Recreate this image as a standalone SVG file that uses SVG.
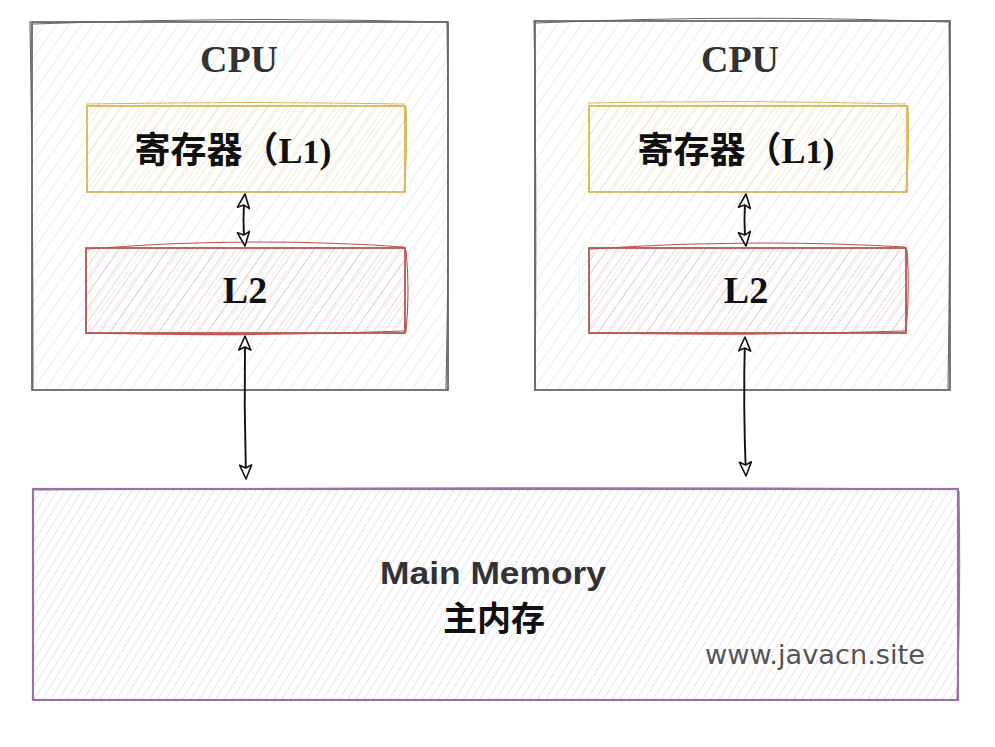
<svg xmlns="http://www.w3.org/2000/svg" width="995" height="747" viewBox="0 0 995 747">
<defs>
<pattern id="hGray" patternUnits="userSpaceOnUse" width="10" height="10" patternTransform="rotate(35)"><line x1="0" y1="0" x2="0" y2="10" stroke="#d9d9d9" stroke-width="1"/></pattern>
<pattern id="hYellow" patternUnits="userSpaceOnUse" width="8" height="8" patternTransform="rotate(35)"><line x1="0" y1="0" x2="0" y2="8" stroke="#f0d88c" stroke-width="1"/></pattern>
<pattern id="hRed" patternUnits="userSpaceOnUse" width="8" height="8" patternTransform="rotate(35)"><line x1="0" y1="0" x2="0" y2="8" stroke="#eea7a4" stroke-width="1"/></pattern>
<pattern id="hPurple" patternUnits="userSpaceOnUse" width="7" height="7" patternTransform="rotate(32)"><line x1="0" y1="0" x2="0" y2="7" stroke="#d2c3e4" stroke-width="1"/></pattern>
<marker id="ah" viewBox="0 0 16 14" refX="15" refY="7" markerWidth="16" markerHeight="14" markerUnits="userSpaceOnUse" orient="auto-start-reverse"><path d="M1,1 L15,7 L1,13 L4,7 Z" fill="#fff" stroke="#111" stroke-width="1.6" stroke-linejoin="round"/></marker>
</defs>
<style>
.cpu{fill:url(#hGray);stroke:#555;stroke-width:1.6}
.sk{fill:none;stroke-width:1.1}
.l1{fill:url(#hYellow);stroke:#d6b656;stroke-width:1.8}
.l2{fill:url(#hRed);stroke:#b85450;stroke-width:1.8}
.mem{fill:url(#hPurple);stroke:#9673a6;stroke-width:2.2}
.t{font-family:"Liberation Serif","Noto Sans CJK SC",serif;font-weight:bold;text-anchor:middle}
.cn{font-family:"Liberation Serif","Noto Sans CJK SC",serif;font-weight:bold;text-anchor:middle}
.conn{stroke:#111;stroke-width:1.9;fill:none;marker-start:url(#ah);marker-end:url(#ah)}
</style>
<rect width="995" height="747" fill="#fff"/>
<g id="cpu1">
<rect class="cpu" x="32" y="22" width="416" height="368"/>
<path class="sk" stroke="#666" d="M33,24 Q240,16 446,22 M447,21 Q450,200 446,389 M30,21 Q33,200 33,388"/>
<text class="t" x="239" y="72" font-size="38" fill="#333">CPU</text>
</g>
<g id="cpu2">
<rect class="cpu" x="535" y="21" width="415" height="369"/>
<path class="sk" stroke="#666" d="M536,23 Q740,14 948,22 M949,20 Q951,200 948,389 M534,20 Q537,200 535,388"/>
<text class="t" x="740" y="72" font-size="38" fill="#333">CPU</text>
</g>
<g id="l1a">
<rect class="l1" x="87" y="106" width="318" height="86"/>
<path class="sk" stroke="#d6b656" d="M86,104 Q246,101 404,104 M406,106 Q408,150 404,191"/>
<text class="cn" x="233" y="163" font-size="36" fill="#111">寄存器（L<tspan font-size="34">1</tspan>)</text>
</g>
<g id="l1b">
<rect class="l1" x="589" y="106" width="318" height="86"/>
<path class="sk" stroke="#d6b656" d="M588,103 Q748,100 906,104 M908,106 Q910,150 906,191"/>
<text class="cn" x="736" y="163" font-size="36" fill="#111">寄存器（L<tspan font-size="34">1</tspan>)</text>
</g>
<g id="l2a">
<rect class="l2" x="86" y="248" width="319" height="85"/>
<path class="sk" stroke="#b85450" d="M87,249 Q245,236 404,247 M406,250 Q410,290 406,332 M87,333 Q245,337 404,331"/>
<text class="t" x="245" y="303" font-size="38" fill="#111">L2</text>
</g>
<g id="l2b">
<rect class="l2" x="589" y="248" width="317" height="85"/>
<path class="sk" stroke="#b85450" d="M590,249 Q748,238 905,247 M907,250 Q910,290 906,332 M590,333 Q748,336 905,331"/>
<text class="t" x="746" y="303" font-size="38" fill="#111">L2</text>
</g>
<g id="mem">
<rect class="mem" x="33" y="489" width="925" height="211"/>
<path class="sk" stroke="#9673a6" d="M34,490 Q500,486 957,489 M959,491 Q961,600 957,699"/>
<text x="493" y="584" font-family="Liberation Sans,Arial,sans-serif" font-weight="bold" font-size="32" fill="#333" text-anchor="middle" textLength="226" lengthAdjust="spacingAndGlyphs">Main Memory</text>
<text x="494" y="631" font-family="Noto Sans CJK SC,sans-serif" font-weight="bold" font-size="34" fill="#111" text-anchor="middle">主内存</text>
<text x="925" y="664" font-family="DejaVu Sans,Verdana,sans-serif" font-size="26" fill="#555" text-anchor="end" textLength="220" lengthAdjust="spacingAndGlyphs">www.javacn.site</text>
</g>
<g id="connectors">
<path class="conn" d="M245,194 Q242,220 245,246"/>
<path class="conn" d="M245,336 Q244,408 246,479"/>
<path class="conn" d="M746,194 Q743,220 746,246"/>
<path class="conn" d="M745,337 Q743,406 746,476"/>
</g>
</svg>
